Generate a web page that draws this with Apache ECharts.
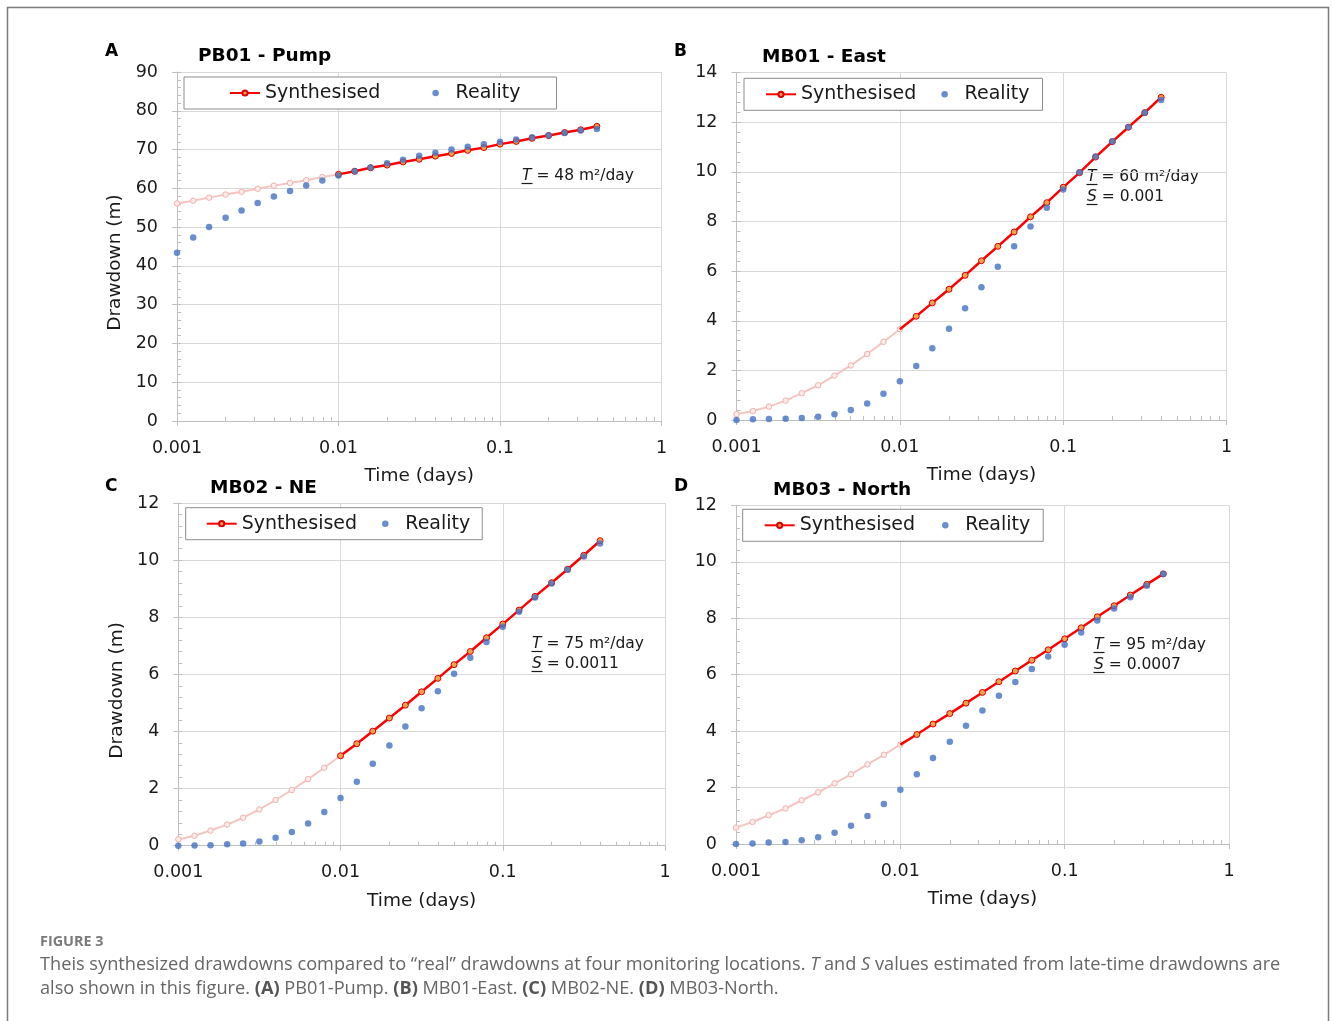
<!DOCTYPE html>
<html>
<head>
<meta charset="utf-8">
<title>Theis drawdowns</title>
<script src="https://cdn.jsdelivr.net/npm/echarts@6/dist/echarts.min.js"></script>
<style>
  html, body { margin: 0; padding: 0; background: #fff; }
  #chart { width: 1333px; height: 1021px; }
</style>
</head>
<body>
<div id="chart"></div>
<script>
// Sampling times (days), ten per log decade
const TIME = [0.001, 0.00126, 0.00158, 0.002, 0.00251, 0.00316, 0.00398, 0.00501, 0.00631, 0.00794,
              0.01, 0.0126, 0.0158, 0.02, 0.0251, 0.0316, 0.0398, 0.0501, 0.0631, 0.0794,
              0.1, 0.126, 0.158, 0.2, 0.251, 0.316, 0.398];

// Minor tick positions on the log time axis
const X_MINOR_TICKS = [0.002, 0.003, 0.004, 0.005, 0.006, 0.007, 0.008, 0.009,
                       0.02, 0.03, 0.04, 0.05, 0.06, 0.07, 0.08, 0.09,
                       0.2, 0.3, 0.4, 0.5, 0.6, 0.7, 0.8, 0.9];
const X_TICK_LABELS = ['0.001', '0.01', '0.1', '1'];

// Panel titles
const PANEL_LETTERS = ['A', 'B', 'C', 'D'];
const PANEL_TITLES = ['PB01 - Pump', 'MB01 - East', 'MB02 - NE', 'MB03 - North'];

// Drawdown (m): synthesised (Theis) and observed ("reality")
const SYN_A = [56.1, 56.8, 57.6, 58.4, 59.1, 59.9, 60.7, 61.4, 62.1, 62.9, 63.6,
               64.4, 65.3, 66.0, 66.8, 67.5, 68.3, 69.0, 69.8, 70.5, 71.4, 72.1, 72.9, 73.6, 74.4, 75.1, 76.0];
const REAL_A = [43.4, 47.3, 50.0, 52.4, 54.3, 56.2, 57.9, 59.3, 60.7, 62.0, 63.3,
                64.4, 65.4, 66.5, 67.4, 68.4, 69.2, 70.0, 70.7, 71.4, 72.0, 72.6, 73.2, 73.7, 74.3, 74.9, 75.3];

const SYN_B = [0.23, 0.36, 0.54, 0.78, 1.08, 1.40, 1.79, 2.20, 2.66, 3.15, 3.66,
               4.18, 4.72, 5.27, 5.83, 6.42, 7.00, 7.58, 8.19, 8.76, 9.38, 9.97, 10.60, 11.22, 11.80, 12.39, 13.01];
const REAL_B = [0.0, 0.03, 0.04, 0.05, 0.08, 0.13, 0.23, 0.40, 0.67, 1.06, 1.56,
                2.18, 2.89, 3.68, 4.50, 5.35, 6.18, 7.00, 7.80, 8.56, 9.29, 9.99, 10.62, 11.24, 11.81, 12.39, 12.90];

const SYN_C = [0.22, 0.35, 0.53, 0.74, 0.98, 1.27, 1.60, 1.95, 2.33, 2.73, 3.15,
               3.57, 4.01, 4.47, 4.92, 5.39, 5.86, 6.34, 6.80, 7.28, 7.76, 8.25, 8.73, 9.21, 9.68, 10.17, 10.68];
const REAL_C = [0.0, 0.01, 0.02, 0.05, 0.08, 0.15, 0.28, 0.48, 0.78, 1.18, 1.67,
                2.24, 2.87, 3.51, 4.17, 4.81, 5.41, 6.02, 6.58, 7.13, 7.67, 8.19, 8.69, 9.18, 9.66, 10.13, 10.58];

const SYN_D = [0.58, 0.78, 1.02, 1.26, 1.55, 1.83, 2.15, 2.47, 2.82, 3.16, 3.52,
               3.88, 4.25, 4.62, 4.99, 5.37, 5.75, 6.13, 6.51, 6.88, 7.27, 7.66, 8.05, 8.44, 8.82, 9.20, 9.57];
const REAL_D = [0.0, 0.02, 0.05, 0.07, 0.13, 0.24, 0.40, 0.65, 0.99, 1.42, 1.92,
                2.47, 3.05, 3.62, 4.19, 4.73, 5.25, 5.74, 6.20, 6.64, 7.06, 7.49, 7.92, 8.34, 8.74, 9.15, 9.57];

// Index where the late-time (fitted) part of the synthesised curve begins
const LATE_START = 10;

// Y axis ranges
const Y_MAX = [90, 14, 12, 12];
const Y_STEP = [10, 2, 2, 2];

// Estimated aquifer parameters
const PARAMS = [
  [['T', ' = 48 m²/day']],
  [['T', ' = 60 m²/day'], ['S', ' = 0.001']],
  [['T', ' = 75 m²/day'], ['S', ' = 0.0011']],
  [['T', ' = 95 m²/day'], ['S', ' = 0.0007']]
];

const SYN = [SYN_A, SYN_B, SYN_C, SYN_D];
const REAL = [REAL_A, REAL_B, REAL_C, REAL_D];

// ---- layout ----
const FONT = 'DejaVu Sans';
const GRIDS = [
  { left: 177,   top: 72,    width: 484.5, height: 349 },
  { left: 736.5, top: 72.7,  width: 490,   height: 347.3 },
  { left: 178.3, top: 503,   width: 486.7, height: 342.7 },
  { left: 736,   top: 505.3, width: 493,   height: 338.7 }
];
const LEGENDS = [
  { left: 184,   top: 77,    itemGap: 52, padding: [5, 36, 5, 45] },
  { left: 744,   top: 78.3,  itemGap: 25, padding: [5, 13, 5, 21] },
  { left: 185.7, top: 507.7, itemGap: 25, padding: [5, 12, 5, 20] },
  { left: 742.7, top: 509.3, itemGap: 27, padding: [5, 13, 5, 21] }
];
const LETTER_POS = [[105, 52], [674, 52], [105, 487], [674, 487]];
const TITLE_POS = [[198, 56], [762, 57], [210, 488], [773, 490]];
const PARAM_POS = [[522, 176], [1087, 177], [532, 644], [1094, 645]];

const AXIS_GREY = '#bfbfbf';
const GRID_GREY = '#d9d9d9';
const TEXT = '#1a1a1a';

const grid = [], xAxis = [], yAxis = [], series = [], legend = [], graphic = [];

for (let i = 0; i < 4; i++) {
  grid.push(Object.assign({ containLabel: false }, GRIDS[i]));

  // main time axis
  xAxis.push({
    type: 'log', logBase: 10, gridIndex: i, min: 0.001, max: 1,
    name: 'Time (days)', nameLocation: 'middle', nameGap: 46,
    nameTextStyle: { fontFamily: FONT, fontSize: 18.5, color: TEXT },
    axisLine: { show: true, lineStyle: { color: AXIS_GREY, width: 1 } },
    axisTick: { show: true, inside: false, length: 5, lineStyle: { color: AXIS_GREY } },
    minorTick: { show: false },
    axisLabel: {
      fontFamily: FONT, fontSize: 17.5, color: TEXT, margin: 18,
      formatter: v => X_TICK_LABELS[Math.round(Math.log10(v)) + 3]
    },
    splitLine: { show: true, lineStyle: { color: GRID_GREY, width: 1 } }
  });
  // minor ticks (2..9 in each decade), pointing into the plot
  xAxis.push({
    type: 'log', logBase: 10, gridIndex: i, min: 0.001, max: 1, position: 'bottom',
    axisLine: { show: false },
    axisLabel: { show: false },
    splitLine: { show: false },
    axisTick: { show: true, inside: true, length: 4, customValues: X_MINOR_TICKS,
                lineStyle: { color: AXIS_GREY } }
  });

  const isLeft = (i % 2 === 0);
  yAxis.push({
    type: 'value', gridIndex: i, min: 0, max: Y_MAX[i], interval: Y_STEP[i], position: 'left',
    name: isLeft ? 'Drawdown (m)' : '',
    nameLocation: 'middle', nameGap: 52,
    nameTextStyle: { fontFamily: FONT, fontSize: 18.5, color: TEXT, padding: [0, 32, 0, 0] },
    axisLine: { show: true, lineStyle: { color: AXIS_GREY, width: 1 } },
    axisTick: { show: true, inside: false, length: 5, lineStyle: { color: AXIS_GREY } },
    axisLabel: { fontFamily: FONT, fontSize: 17.5, color: TEXT, margin: 19 },
    splitLine: { show: true, lineStyle: { color: GRID_GREY, width: 1 } }
  });
  yAxis.push({
    type: 'value', gridIndex: i, min: 0, max: Y_MAX[i], interval: Y_STEP[i] / 5, position: 'left',
    axisLine: { show: false },
    axisLabel: { show: false },
    splitLine: { show: false },
    axisTick: { show: true, inside: true, length: 4, lineStyle: { color: AXIS_GREY } }
  });

  const syn = SYN[i], real = REAL[i];
  const early = [], late = [], obs = [];
  for (let k = 0; k < TIME.length; k++) {
    if (k <= LATE_START) early.push([TIME[k], syn[k]]);
    if (k >= LATE_START) {
      // in B and D the fitted line starts just after the 0.01 d sample
      const item = { value: [TIME[k], syn[k]] };
      if (k === LATE_START && (i === 1 || i === 3)) item.symbol = 'none';
      late.push(item);
    }
    obs.push([TIME[k], real[k]]);
  }

  series.push({
    type: 'line', name: 'Synthesised early', xAxisIndex: 2 * i, yAxisIndex: 2 * i,
    data: early, symbol: 'circle', symbolSize: 5.5, showSymbol: true,
    lineStyle: { color: '#f6c5c2', width: 2 },
    itemStyle: { color: '#fdeceb', borderColor: '#f1b2ae', borderWidth: 1 },
    z: 2, silent: true
  });
  series.push({
    type: 'line', name: 'Synthesised', xAxisIndex: 2 * i, yAxisIndex: 2 * i,
    data: late, symbol: 'circle', symbolSize: 6, showSymbol: true,
    lineStyle: { color: '#ff0000', width: 2.5 },
    itemStyle: { color: '#f7a04b', borderColor: '#d90000', borderWidth: 1 },
    z: 3, silent: true
  });
  series.push({
    type: 'scatter', name: 'Reality', xAxisIndex: 2 * i, yAxisIndex: 2 * i,
    data: obs, symbol: 'circle', symbolSize: 6.5,
    itemStyle: { color: '#4472c4' },
    z: 4, silent: true
  });

  legend.push(Object.assign({
    orient: 'horizontal', data: ['Synthesised', 'Reality'],
    itemWidth: 30, itemHeight: 6.5,
    borderColor: '#8c8c8c', borderWidth: 1, borderRadius: 0,
    backgroundColor: '#ffffff', selectedMode: false,
    textStyle: { fontFamily: FONT, fontSize: 19, color: TEXT, lineHeight: 22 }
  }, LEGENDS[i]));

  // panel letter and title
  graphic.push({
    type: 'text', x: LETTER_POS[i][0], y: LETTER_POS[i][1],
    style: { text: PANEL_LETTERS[i], fontFamily: FONT, fontWeight: 'bold', fontSize: 17,
             fill: '#000', verticalAlign: 'middle' }
  });
  graphic.push({
    type: 'text', x: TITLE_POS[i][0], y: TITLE_POS[i][1],
    style: { text: PANEL_TITLES[i], fontFamily: FONT, fontWeight: 'bold', fontSize: 18.5,
             fill: '#000', verticalAlign: 'middle' }
  });

  // parameter annotation with underlined italic symbol
  PARAMS[i].forEach((line, j) => {
    const x = PARAM_POS[i][0], y = PARAM_POS[i][1] + j * 20;
    graphic.push({
      type: 'text', x: x, y: y,
      style: {
        text: '{it|' + line[0] + '}' + line[1],
        fontFamily: FONT, fontSize: 15.5, fill: TEXT, verticalAlign: 'middle',
        rich: { it: { fontFamily: FONT, fontSize: 15.5, fontStyle: 'italic', fill: TEXT } }
      }
    });
    graphic.push({
      type: 'line', shape: { x1: x - 0.5, y1: y + 7.5, x2: x + 10.5, y2: y + 7.5 },
      style: { stroke: TEXT, lineWidth: 1.2 }
    });
  });
}

// figure frame
graphic.push({
  type: 'rect', shape: { x: 7.5, y: 7.5, width: 1321, height: 1100 },
  style: { fill: 'none', stroke: '#7a7a7a', lineWidth: 1.5 }, z: -1
});

// figure caption
const CAP_FONT = 'Open Sans';
const CAP_SIZE = 18.2;
graphic.push({
  type: 'text', x: 40, y: 942,
  style: { text: 'FIGURE 3', fontFamily: CAP_FONT, fontWeight: 'bold', fontSize: 14.4,
           fill: '#7a7a7a', verticalAlign: 'middle' }
});
const capRich = {
  i: { fontFamily: CAP_FONT, fontSize: CAP_SIZE, fontStyle: 'italic', fill: '#666' },
  b: { fontFamily: CAP_FONT, fontSize: CAP_SIZE, fontWeight: 'bold', fill: '#555' }
};
graphic.push({
  type: 'text', x: 40, y: 965,
  style: {
    text: 'Theis synthesized drawdowns compared to “real” drawdowns at four monitoring locations. {i|T} and {i|S} values estimated from late-time drawdowns are',
    fontFamily: CAP_FONT, fontSize: CAP_SIZE, fill: '#666', verticalAlign: 'middle', rich: capRich
  }
});
graphic.push({
  type: 'text', x: 40, y: 989,
  style: {
    text: 'also shown in this figure. {b|(A)} PB01-Pump. {b|(B)} MB01-East. {b|(C)} MB02-NE. {b|(D)} MB03-North.',
    fontFamily: CAP_FONT, fontSize: CAP_SIZE, fill: '#666', verticalAlign: 'middle', rich: capRich
  }
});

const chart = echarts.init(document.getElementById('chart'), null, { renderer: 'canvas' });
chart.setOption({
  backgroundColor: '#ffffff',
  animation: false,
  grid: grid,
  xAxis: xAxis,
  yAxis: yAxis,
  legend: legend,
  series: series,
  graphic: graphic
});
</script>
</body>
</html>
